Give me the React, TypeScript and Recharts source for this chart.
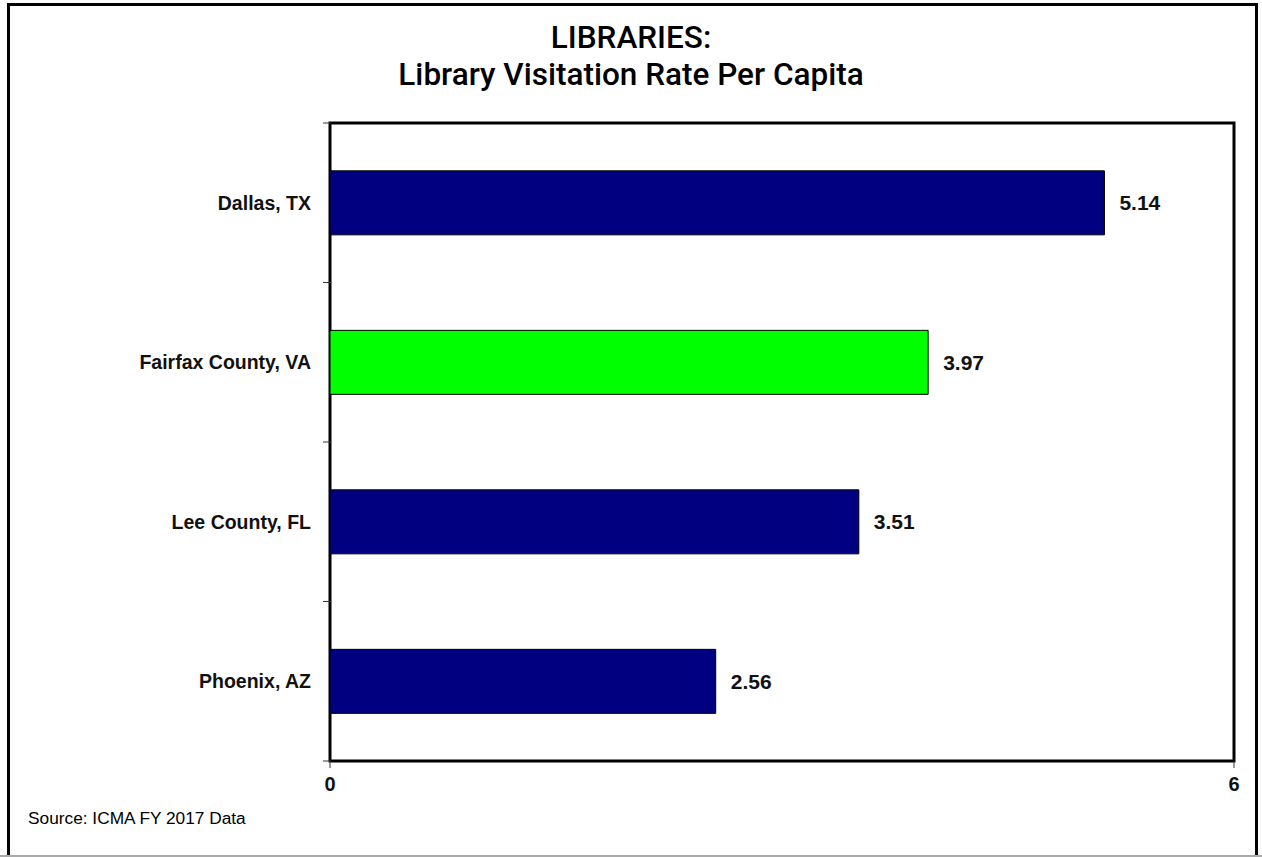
import React from 'react';
import { BarChart, Bar, XAxis, YAxis, Cell, LabelList, ReferenceArea } from 'recharts';

const categories = ['Dallas, TX', 'Fairfax County, VA', 'Lee County, FL', 'Phoenix, AZ'];
const values = [5.14, 3.97, 3.51, 2.56];
const xTicks = [0, 6];
const highlight = 'Fairfax County, VA';
const titleLine1 = 'LIBRARIES:';
const titleLine2 = 'Library Visitation Rate Per Capita';
const sourceNote = 'Source: ICMA FY 2017 Data';

const data = categories.map((name, i) => ({ name, value: values[i] }));

const W = 1262;
const H = 857;
const M = { top: 123, right: 28, bottom: 66, left: 10 };
const Y_AXIS_W = 320;
const X_AXIS_H = 30;
const PLOT_H = H - M.top - M.bottom - X_AXIS_H;
const BAND = PLOT_H / categories.length;

const FONT = '"Liberation Sans", Arial, sans-serif';

const CategoryTick = (props: any) => {
  const { x, y, payload, index } = props;
  const lx = x + 9;
  return (
    <g>
      <line x1={lx - 8} x2={lx} y1={y - BAND / 2} y2={y - BAND / 2} stroke="#333" strokeWidth={1} />
      {index === categories.length - 1 && (
        <line x1={lx - 8} x2={lx} y1={y + BAND / 2} y2={y + BAND / 2} stroke="#333" strokeWidth={1} />
      )}
      <text x={x - 11} y={y} textAnchor="end" dominantBaseline="central" fontFamily={FONT} fontWeight="bold" fontSize={19.5} fill="#111">
        {payload.value}
      </text>
    </g>
  );
};

export default function App() {
  return (
    <div style={{ position: 'absolute', left: 0, top: 0, width: W, height: H, background: '#fff', overflow: 'hidden' }}>
      <div style={{ position: 'absolute', left: 7, top: 3, width: 1245, height: 870, border: '3px solid #000' }} />
      <div style={{ position: 'absolute', left: 0, top: 855, width: W, height: 2, background: '#aaa' }} />
      <div style={{ position: 'absolute', left: 0, top: 19, width: W, textAlign: 'center', fontFamily: 'Roboto, "Liberation Sans", sans-serif', fontSize: 31.5, lineHeight: '37px', color: '#000', fontWeight: 500 }}>
        <div>{titleLine1}</div>
        <div>{titleLine2}</div>
      </div>
      <div style={{ position: 'absolute', left: 28, top: 810, fontFamily: FONT, fontSize: 17.3, lineHeight: 1, color: '#000' }}>{sourceNote}</div>
      <div style={{ position: 'absolute', left: 0, top: 0 }}>
        <BarChart width={W} height={H} data={data} layout="vertical" margin={M} barCategoryGap="30%">
          <XAxis
            type="number"
            domain={[0, 6]}
            ticks={xTicks}
            height={X_AXIS_H}
            axisLine={false}
            tickLine={{ stroke: '#333', strokeWidth: 1 }}
            tickSize={7}
            tickMargin={9}
            tick={{ fontFamily: FONT, fontSize: 20, fontWeight: 'bold', fill: '#111' }}
          />
          <YAxis
            type="category"
            dataKey="name"
            width={Y_AXIS_W}
            axisLine={false}
            tickLine={false}
            tick={<CategoryTick />}
            interval={0}
          />
          <Bar dataKey="value" stroke="#000" strokeWidth={1} isAnimationActive={false}>
            {data.map((d) => (
              <Cell key={d.name} fill={d.name === highlight ? '#00FF00' : '#000080'} />
            ))}
            <LabelList
              dataKey="value"
              position="right"
              offset={15}
              formatter={(v: any) => Number(v).toFixed(2)}
              style={{ fontFamily: FONT, fontWeight: 'bold', fontSize: 21, fill: '#111' }}
            />
          </Bar>
          <ReferenceArea x1={0} x2={6} fill="none" fillOpacity={0} stroke="#000" strokeWidth={3} ifOverflow="extendDomain" />
        </BarChart>
      </div>
    </div>
  );
}
